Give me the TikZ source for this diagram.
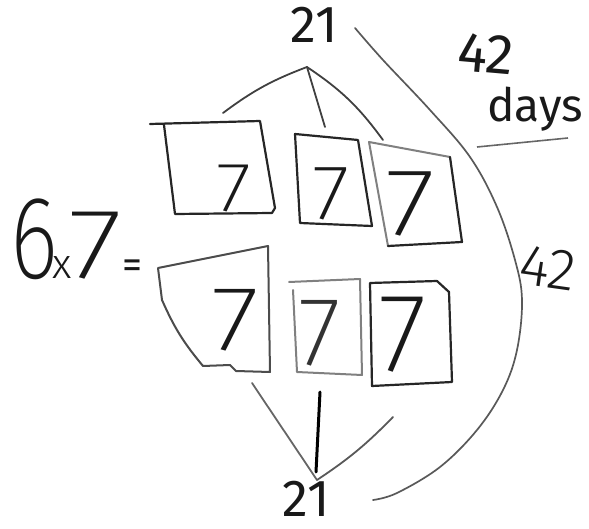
\documentclass[tikz,border=0pt]{standalone}
\usepackage{fontspec}
\newfontfamily\hand{Fira Sans}[UprightFont={* Light}]
\newfontfamily\handb{Fira Sans}
\newfontfamily\handx{Fira Sans}[UprightFont={* ExtraLight}]
\begin{document}
\begin{tikzpicture}[x=1pt,y=-1pt,
  ink/.style={draw=black!85,line width=2.2pt,line join=round,line cap=round},
  pale/.style={draw=black!50,line width=2pt,line join=round,line cap=round},
  branch/.style={draw=black!75,line width=1.8pt,line cap=round},
  txt/.style={inner sep=0pt,text=black!90},
]
\useasboundingbox (0,0) rectangle (589,529);

% --- 6x7= ---
\node[txt,anchor=base west] (eq) at (10,279)
  {\handx\fontsize{118}{118}\selectfont\scalebox{0.78}[1]{6}\kern-6pt\hand\fontsize{42}{42}\selectfont x\kern-3pt\handx\fontsize{100}{100}\selectfont\scalebox{1.25}[1]{7}\kern0pt\handb\fontsize{40}{40}\selectfont =};

% --- boxes ---
\draw[ink] (150,124) -- (260,121) -- (275,208) -- (272,213) -- (175,214) -- (164,125);
\draw[ink] (295,134) -- (358,140) -- (372,226) -- (300,223) -- cycle;
\draw[pale] (388,246) -- (369,142) -- (450,157);
\draw[ink] (450,157) -- (462,242) -- (388,246);
\draw[draw=black!70,line width=2pt,line join=round] (158,268) -- (268,246) -- (270,372) -- (236,371) -- (230,365) -- (203,366) to[bend left=8] (162,300) -- cycle;
\draw[pale] (289,282) -- (360,279) -- (362,375) -- (297,372) -- (293,290);
\draw[ink] (370,283) -- (437,281) -- (449,292) -- (452,382) -- (372,386) -- cycle;

% --- sevens ---
\node[txt] (s1) at (234,189) {\handx\fontsize{70}{70}\selectfont\scalebox{1.15}[1]{7}};
\node[txt] (s2) at (331,194) {\handx\fontsize{78}{78}\selectfont\scalebox{1.1}[1]{7}};
\node[txt] (s3) at (410,204) {\handx\fontsize{96}{96}\selectfont\scalebox{1.2}[1]{7}};
\node[txt] (s4) at (235,320) {\handx\fontsize{92}{92}\selectfont\scalebox{1.2}[1]{7}};
\node[txt,text=black!80] (s5) at (320,333) {\handx\fontsize{98}{98}\selectfont 7};
\node[txt] (s6) at (403,335) {\handx\fontsize{112}{112}\selectfont 7};

% --- top 21 and tree ---
\node[txt] (t21) at (314,25) {\handb\fontsize{52}{52}\selectfont 21};
\coordinate (ta) at (307,67);
\coordinate (tl) at (223,113);
\coordinate (tm) at (325,127);
\coordinate (tr) at (383,140);
\draw[branch] (ta) to[bend right=8] (tl);
\draw[branch] (ta) -- (tm);
\draw[branch] (ta) to[bend left=10] (tr);

% --- bottom 21 and tree ---
\node[txt] (b21) at (306,499) {\handb\fontsize{52}{52}\selectfont 21};
\coordinate (ba) at (317,480);
\coordinate (bl) at (252,383);
\coordinate (br) at (393,417);
\coordinate (bt) at (320,392);
\coordinate (bb) at (316,472);
\draw[branch,draw=black!60] (ba) -- (bl);
\draw[branch,draw=black!65] (ba) to[bend right=6] (br);
\draw[line width=3pt,line cap=round] (bt) -- (bb);

% --- big arc ---
\draw[draw=black!65,line width=1.7pt,line cap=round] plot[smooth,tension=0.6] coordinates
  {(355,28) (383,60) (430,110) (470,157) (497,207) (515,260) (522,300) (517,350) (503,390) (477,430) (440,467) (397,493) (373,500)};
\node[txt,rotate=-8] (n42) at (548,268) {\hand\fontsize{58}{58}\selectfont 42};

% --- 42 days ---
\node[txt,rotate=-5] (d42) at (486,54) {\handb\fontsize{56}{56}\selectfont 42};
\node[txt] (days) at (535,109) {\handb\fontsize{46}{46}\selectfont days};
\coordinate (u1) at (477,147);
\coordinate (u2) at (568,138);
\draw[draw=black!60,line width=1.6pt] (u1) -- (u2);
\end{tikzpicture}
\end{document}
